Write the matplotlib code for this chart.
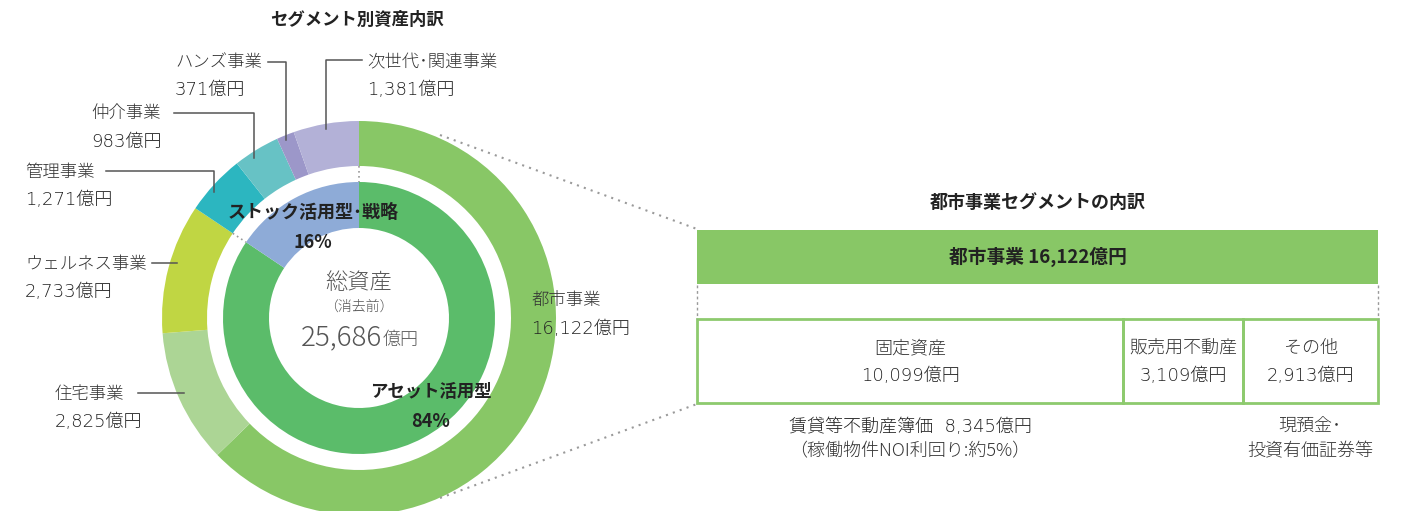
import numpy as np
import matplotlib.pyplot as plt
from matplotlib.patches import Rectangle

plt.rcParams['font.family'] = ['Noto Sans CJK JP', 'DejaVu Sans']

# セグメント別資産 (億円)
segments = ['都市事業', '住宅事業', 'ウェルネス事業', '管理事業', '仲介事業', 'ハンズ事業', '次世代･関連事業']
segment_values = [16122, 2825, 2733, 1271, 983, 371, 1381]
segment_colors = ['#88c766', '#acd595', '#c0d643', '#2cb6c0', '#67c2c5', '#9c97c9', '#b3b1d7']

# 内側: アセット活用型 = 都市・住宅・ウェルネス, ストック活用型・戦略 = 残り
groups = ['アセット活用型', 'ストック活用型･戦略']
group_sizes = [3, 4]
group_colors = ['#5bbc6a', '#8eabd7']

# 都市事業の内訳 (億円)
city_items = ['固定資産', '販売用不動産', 'その他']
city_values = [10099, 3109, 2913]
city_total = 16122
rental_book = 8345
noi_yield = 5

W, H = 1410, 511
def Y(y):
    return H - y

text_c = '#333333'
num_c = '#222222'
line_c = '#555555'
dot_c = '#9a9a9a'
num_font = ['DejaVu Sans', 'Noto Sans CJK JP']

fig = plt.figure(figsize=(W / 100, H / 100), dpi=100)
ax = fig.add_axes([0, 0, 1, 1])

total = sum(segment_values)
group_values = [sum(segment_values[:group_sizes[0]]), sum(segment_values[group_sizes[0]:])]

cx, cy = 359, 318
ax.pie(segment_values, radius=197, center=(cx, Y(cy)), startangle=90, counterclock=False,
       colors=segment_colors, wedgeprops=dict(width=45, linewidth=0))
ax.pie(group_values, radius=136, center=(cx, Y(cy)), startangle=90, counterclock=False,
       colors=group_colors, wedgeprops=dict(width=46, linewidth=0))

ax.set_xlim(0, W)
ax.set_ylim(0, H)
ax.set_aspect('equal')
ax.axis('off')

# 内外リングの境界をつなぐ点線
for frac in [0, group_values[1] / total]:
    a = np.pi / 2 + 2 * np.pi * frac
    ax.plot([cx + 152 * np.cos(a), cx + 136 * np.cos(a)],
            [Y(cy) + 152 * np.sin(a), Y(cy) + 136 * np.sin(a)],
            color=dot_c, lw=1.2, ls=(0, (1, 2)))

# 中央
ax.text(cx, Y(283), '総資産', ha='center', va='center', fontsize=16, color='#555555', fontweight='light')
ax.text(cx, Y(307), '（消去前）', ha='center', va='center', fontsize=10, color='#555555', fontweight='light')
ax.text(382, Y(345), f'{total:,}', ha='right', va='baseline', fontsize=20, color='#555555', fontweight='light')
ax.text(383, Y(345), '億円', ha='left', va='baseline', fontsize=13, color='#555555', fontweight='light')

pcts = [round(v / total * 100) for v in group_values]
ax.text(313, Y(212), groups[1], ha='center', va='center', fontsize=13, fontweight='bold', color='#222222')
ax.text(313, Y(242), f'{pcts[1]}%', ha='center', va='center', fontsize=13, fontweight='bold', color='#222222')
ax.text(431, Y(392), groups[0], ha='center', va='center', fontsize=12.5, fontweight='bold', color='#222222')
ax.text(431, Y(421), f'{pcts[0]}%', ha='center', va='center', fontsize=13, fontweight='bold', color='#222222')

ax.text(357, Y(20), 'セグメント別資産内訳', ha='center', va='center', fontsize=12.5, fontweight='bold', color='#222222')

# ラベル位置: (左端x, 名前のy, 金額のy)
label_pos = {
    '都市事業': (531, 301, 329),
    '住宅事業': (55, 394, 422),
    'ウェルネス事業': (25, 264, 292),
    '管理事業': (25, 172, 200),
    '仲介事業': (91, 113, 142),
    'ハンズ事業': (175, 62, 90),
    '次世代･関連事業': (367, 62, 90),
}
for name, val in zip(segments, segment_values):
    x, y1, y2 = label_pos[name]
    ax.text(x, Y(y1), name, ha='left', va='center', fontsize=12.5, color=text_c, fontweight='light')
    ax.text(x, Y(y2), f'{val:,}億円', ha='left', va='center', fontsize=13, color=num_c,
            family=num_font, fontweight='light')

# 引き出し線
leaders = [
    [(138, 393), (184, 393)],
    [(152, 263), (177, 263)],
    [(106, 171), (214, 171), (214, 192)],
    [(174, 113), (254, 113), (254, 158)],
    [(268, 62), (286, 62), (286, 140)],
    [(362, 60), (326, 60), (326, 129)],
]
for pts in leaders:
    xs, ys = zip(*pts)
    ax.plot(xs, [Y(v) for v in ys], color=line_c, lw=1.1)

# 都市事業の内訳
bx0, bx1 = 697, 1378
ax.text((bx0 + bx1) / 2, Y(202), '都市事業セグメントの内訳', ha='center', va='center',
        fontsize=13, fontweight='bold', color='#222222')
ax.add_patch(Rectangle((bx0, Y(284)), bx1 - bx0, 54, facecolor='#88c766', edgecolor='none'))
ax.text((bx0 + bx1) / 2, Y(257), f'都市事業 {city_total:,}億円', ha='center', va='center',
        fontsize=13.5, fontweight='bold', color='#222222')

for x in [bx0, bx1]:
    ax.plot([x, x], [Y(285), Y(319)], color=dot_c, lw=1, ls=(0, (2, 2)))

col_edges = [bx0, 1123, 1243, bx1]
for i, (item, val) in enumerate(zip(city_items, city_values)):
    x0, x1 = col_edges[i], col_edges[i + 1]
    ax.add_patch(Rectangle((x0, Y(403)), x1 - x0, 84, facecolor='none', edgecolor='#8dca6e', lw=2))
    ax.text((x0 + x1) / 2, Y(348), item, ha='center', va='center', fontsize=13, color=text_c,
            fontweight='light')
    ax.text((x0 + x1) / 2, Y(376), f'{val:,}億円', ha='center', va='center', fontsize=13, color=num_c,
            family=num_font, fontweight='light')

ax.text(910, Y(427), f'賃貸等不動産簿価  {rental_book:,}億円', ha='center', va='center', fontsize=13,
        color=num_c, family=num_font, fontweight='light')
ax.text(910, Y(451), f'（稼働物件NOI利回り:約{noi_yield}%）', ha='center', va='center', fontsize=13,
        color=text_c, fontweight='light')
ax.text(1310, Y(427), '現預金･', ha='center', va='center', fontsize=13, color=text_c, fontweight='light')
ax.text(1310, Y(451), '投資有価証券等', ha='center', va='center', fontsize=13, color=text_c, fontweight='light')

# ドーナツから内訳への点線
ax.plot([440, bx0], [Y(135), Y(229)], color=dot_c, lw=1.5, ls=(0, (1, 2.5)))
ax.plot([440, bx0], [Y(498), Y(404)], color=dot_c, lw=1.5, ls=(0, (1, 2.5)))

fig.savefig('out.png', dpi=100)
